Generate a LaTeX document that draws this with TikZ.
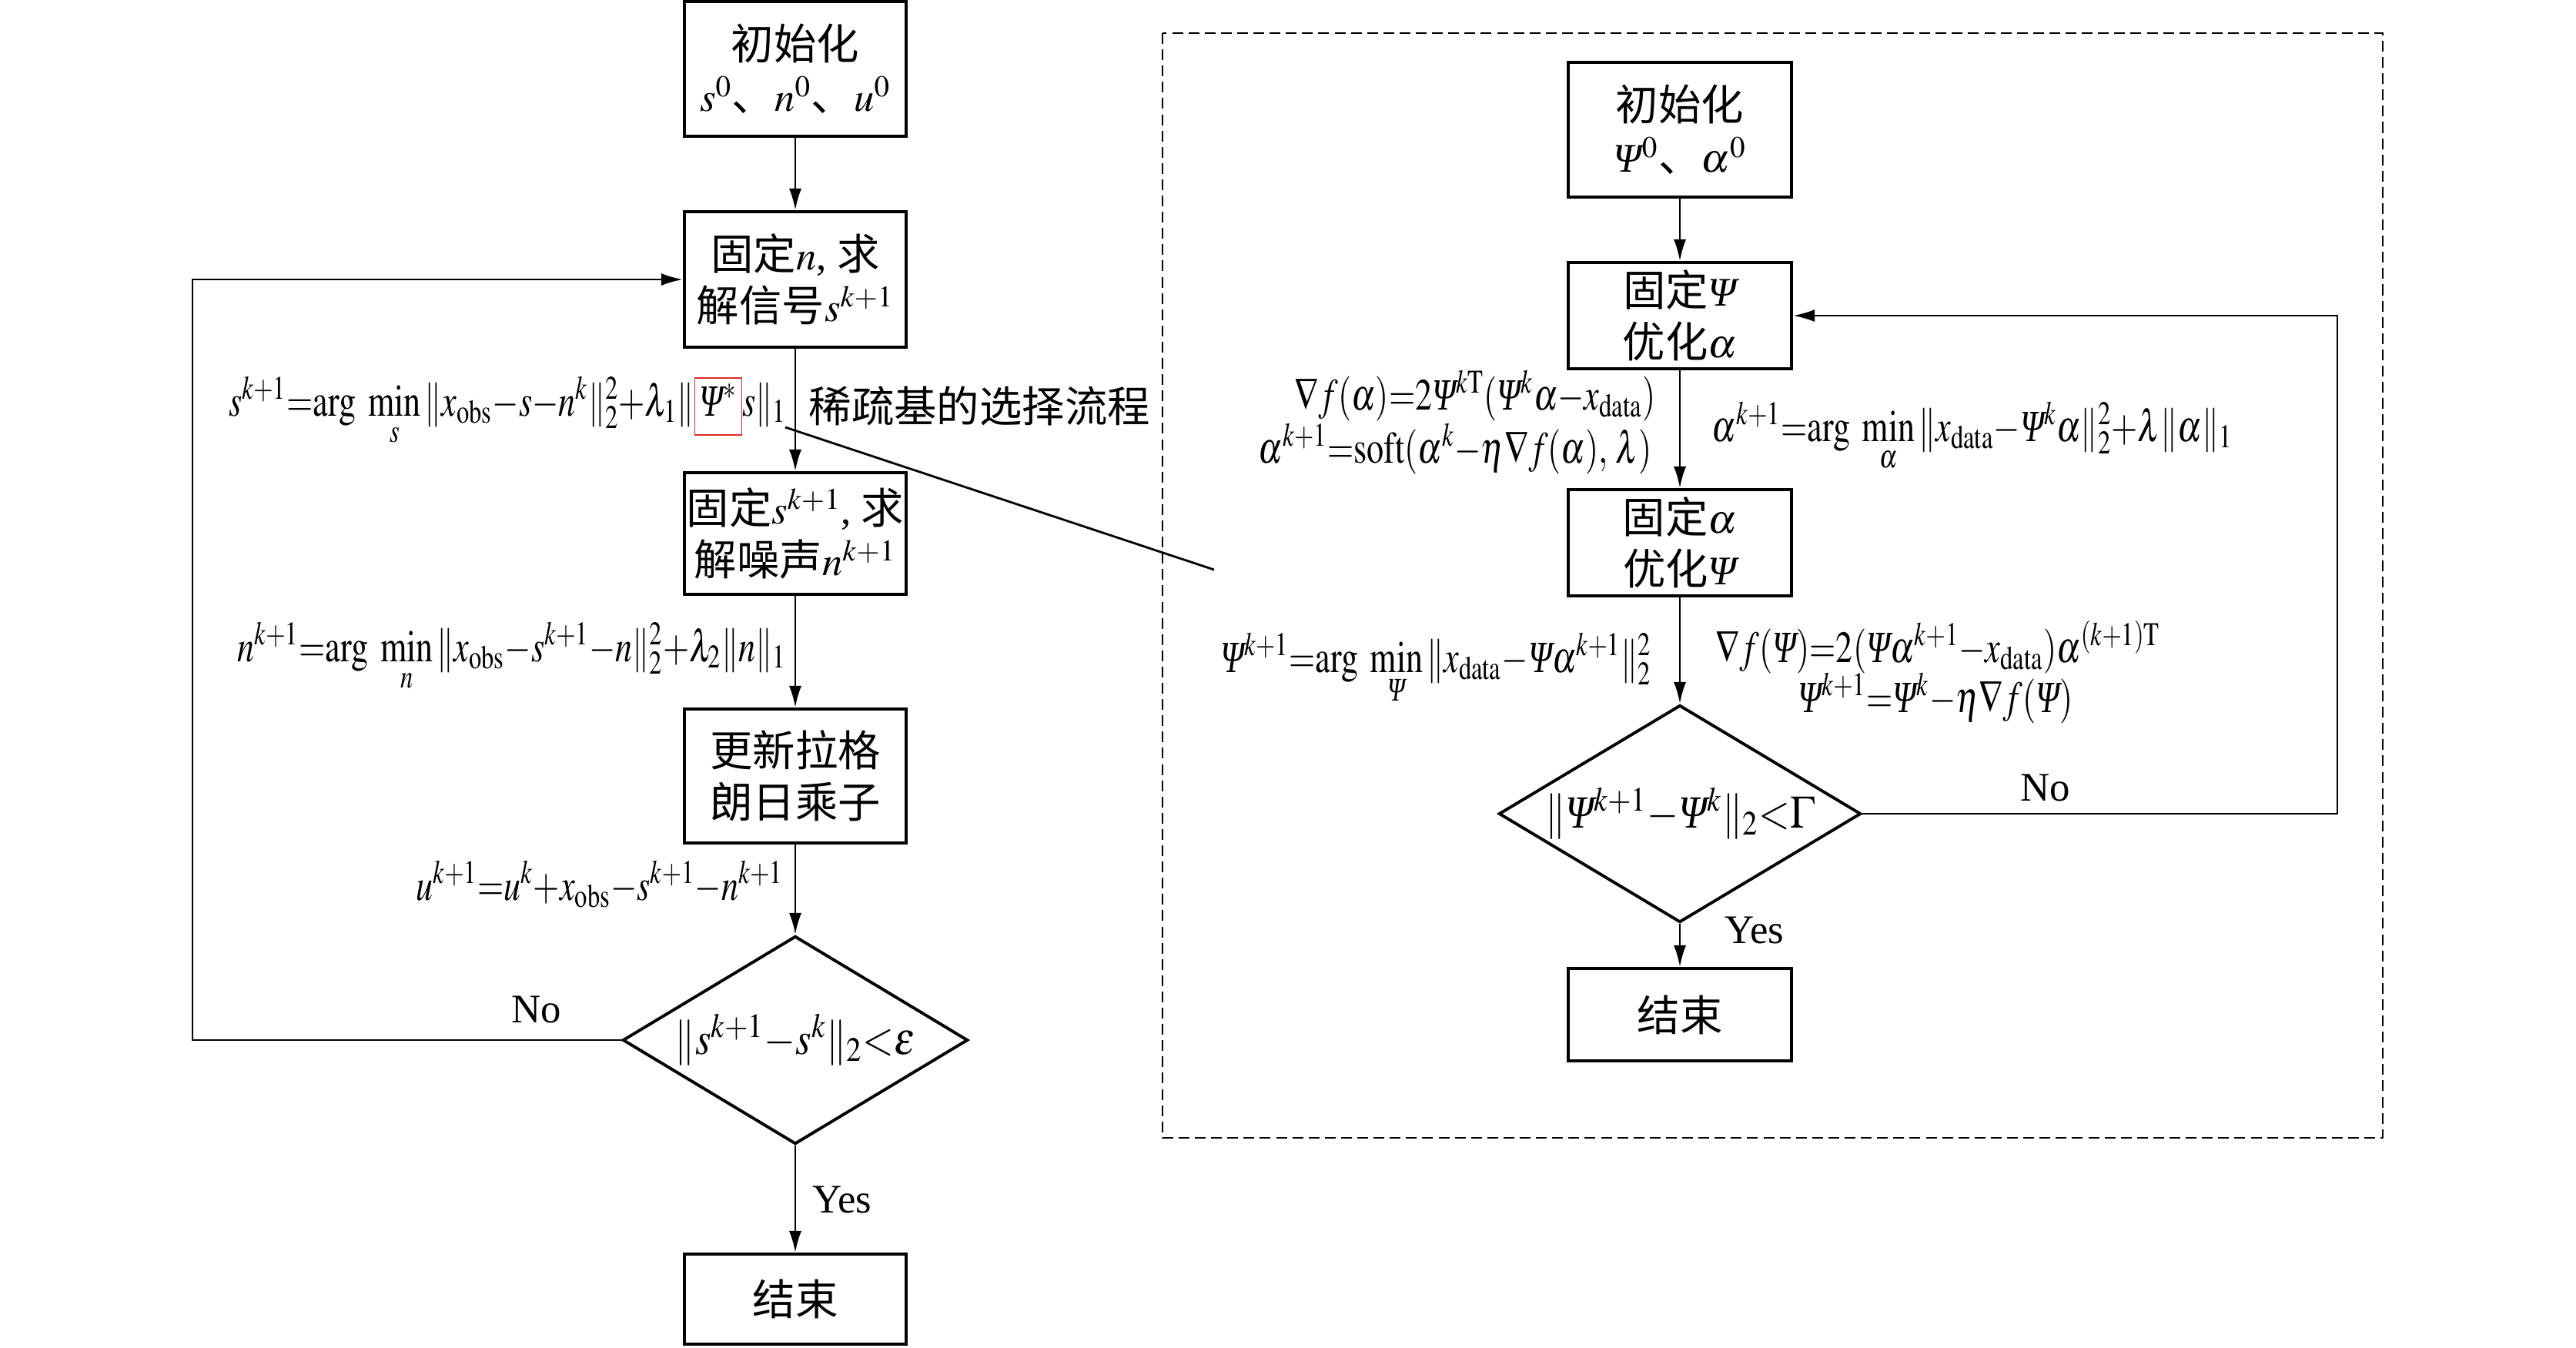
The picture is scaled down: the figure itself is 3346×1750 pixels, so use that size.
\documentclass[tikz,border=0pt]{standalone}
\usepackage{amsmath}
\usepackage{graphicx}
\usepackage{mathptmx}
\usepackage{fontspec}
\setmainfont{Liberation Serif}
\newfontfamily\cjk[Scale=1.05]{Noto Sans CJK SC}
\usetikzlibrary{arrows.meta,shapes.geometric}
\definecolor{redbox}{RGB}{220,40,40}
\newcommand\PS{\text{\itshape Ψ}}
\newcommand\xob{x_{\mathrm{obs}}}
\newcommand\xda{x_{\mathrm{data}}}
\newcommand\cond[1]{\scalebox{0.76}[1]{\fontsize{16.5}{20}\selectfont #1}}
\newcommand\dcond[1]{\scalebox{0.88}[1]{\fontsize{17}{20}\selectfont #1}}
\newcommand\redPsi{\mbox{\setlength\fboxsep{2pt}\setlength\fboxrule{0.6pt}\fcolorbox{redbox}{white}{$\PS^{*}\vphantom{\PS^{*}_{1}}$}}}
\begin{document}
\begin{tikzpicture}[x=0.01cm,y=-0.01cm, font=\fontsize{15}{19}\selectfont,
 box/.style={draw, line width=1.1pt, minimum width=2.88cm, align=center, inner sep=0pt},
 conn/.style={line width=0.8pt, -{Latex[length=8pt,width=4.6pt]}},
 plain/.style={line width=0.8pt},
 dia/.style={draw, diamond, line width=1.1pt, inner sep=0pt},
 lbl/.style={inner sep=0pt},
 dashbox/.style={line width=0.8pt, dash pattern=on 4pt off 2pt}]
\useasboundingbox (0,0) rectangle (3346,1750);
% left flow
\node[box, minimum height=1.75cm] (B1) at (1033,89.5) {{\cjk 初始化}\\$s^0${\cjk 、}$n^0${\cjk 、}$u^0$};
\node[box, minimum height=1.76cm] (B2) at (1033,363) {{\cjk 固定}$n$, {\cjk 求}\\{\cjk 解信号}$s^{k+1}$};
\node[box, minimum height=1.58cm] (B3) at (1033,693) {{\cjk 固定}$s^{k+1}$, {\cjk 求}\\{\cjk 解噪声}$n^{k+1}$};
\node[box, minimum height=1.74cm] (B4) at (1033,1008) {{\cjk 更新拉格}\\{\cjk 朗日乘子}};
\node[dia, minimum width=4.48cm, minimum height=2.7cm] (D1) at (1033,1351) {};
\node[lbl] (D1t) at (D1.center) {\dcond{$\|s^{k+1}{-}s^{k}\|_2{<}\varepsilon$}};
\node[box, minimum height=1.17cm] (B5) at (1033,1687.5) {\cjk 结束};
\draw[conn] (B1) -- (B2);
\draw[conn] (B2) -- (B3);
\draw[conn] (B3) -- (B4);
\draw[conn] (B4) -- (D1);
\draw[conn] (D1) -- (B5);
\coordinate (L1) at (250,1351);
\draw[conn] (D1.west) -- (L1) |- (B2.west);
\node[lbl] (NoL) at (697,1311) {No};
\node[lbl] (YesL) at (1094,1558) {Yes};
\node[lbl, anchor=base east] (F1) at (1022,540) {\cond{$s^{k+1}{=}\mathrm{arg}\ \min\limits_{s}\|\xob{-}s{-}n^{k}\|_2^2{+}\lambda_1\|\redPsi s\|_1$}};
\node[lbl, anchor=base west] (F1b) at (1050,548) {\cjk 稀疏基的选择流程};
\node[lbl, anchor=base east] (F2) at (1022,859) {\cond{$n^{k+1}{=}\mathrm{arg}\ \min\limits_{n}\|\xob{-}s^{k+1}{-}n\|_2^2{+}\lambda_2\|n\|_1$}};
\node[lbl, anchor=base east] (F3) at (1018,1169) {\cond{$u^{k+1}{=}u^{k}{+}\xob{-}s^{k+1}{-}n^{k+1}$}};
% link line
\coordinate (S1) at (1020,555);
\coordinate (S2) at (1577,740);
\draw[plain] (S1) -- (S2);
% right dashed region
\draw[dashbox] (1510,43) rectangle (3095,1478);
\node[box, minimum width=2.9cm, minimum height=1.75cm] (R1) at (2182,168.5) {{\cjk 初始化}\\$\PS^0${\cjk 、}$\alpha^0$};
\node[box, minimum width=2.9cm, minimum height=1.38cm] (R2) at (2182,410) {{\cjk 固定}$\PS$\\{\cjk 优化}$\alpha$};
\node[box, minimum width=2.9cm, minimum height=1.38cm] (R3) at (2182,705) {{\cjk 固定}$\alpha$\\{\cjk 优化}$\PS$};
\node[dia, minimum width=4.7cm, minimum height=2.82cm] (D2) at (2182,1057) {};
\node[lbl] (D2t) at (D2.center) {\dcond{$\|\PS^{k+1}{-}\PS^{k}\|_2{<}\Gamma$}};
\node[box, minimum width=2.9cm, minimum height=1.2cm] (R4) at (2182,1318) {\cjk 结束};
\draw[conn] (R1) -- (R2);
\draw[conn] (R2) -- (R3);
\draw[conn] (R3) -- (D2);
\draw[conn] (D2) -- (R4);
\coordinate (R5) at (3036,1057);
\draw[conn] (D2.east) -- (R5) |- (R2.east);
\node[lbl] (NoR) at (2657,1023) {No};
\node[lbl] (YesR) at (2279,1208) {Yes};
\node[lbl, anchor=base east] (F4) at (2151,532) {\cond{$\nabla f(\alpha){=}2\PS^{k\mathrm{T}}(\PS^{k}\alpha{-}\xda)$}};
\node[lbl, anchor=base east] (F5) at (2146,601) {\cond{$\alpha^{k+1}{=}\mathrm{soft}(\alpha^{k}{-}\eta\nabla f(\alpha),\,\lambda)$}};
\node[lbl, anchor=base west] (F6) at (2223,573) {\cond{$\alpha^{k+1}{=}\mathrm{arg}\ \min\limits_{\alpha}\|\xda{-}\PS^{k}\alpha\|_2^2{+}\lambda\|\alpha\|_1$}};
\node[lbl, anchor=base east] (F7) at (2146,873) {\cond{$\PS^{k+1}{=}\mathrm{arg}\ \min\limits_{\PS}\|\xda{-}\PS\alpha^{k+1}\|_2^2$}};
\node[lbl, anchor=base west] (F8) at (2228,860) {\cond{$\nabla f(\PS){=}2(\PS\alpha^{k+1}{-}\xda)\alpha^{(k+1)\mathrm{T}}$}};
\node[lbl, anchor=base] (F9) at (2514,925) {\cond{$\PS^{k+1}{=}\PS^{k}{-}\eta\nabla f(\PS)$}};
\end{tikzpicture}
\end{document}
